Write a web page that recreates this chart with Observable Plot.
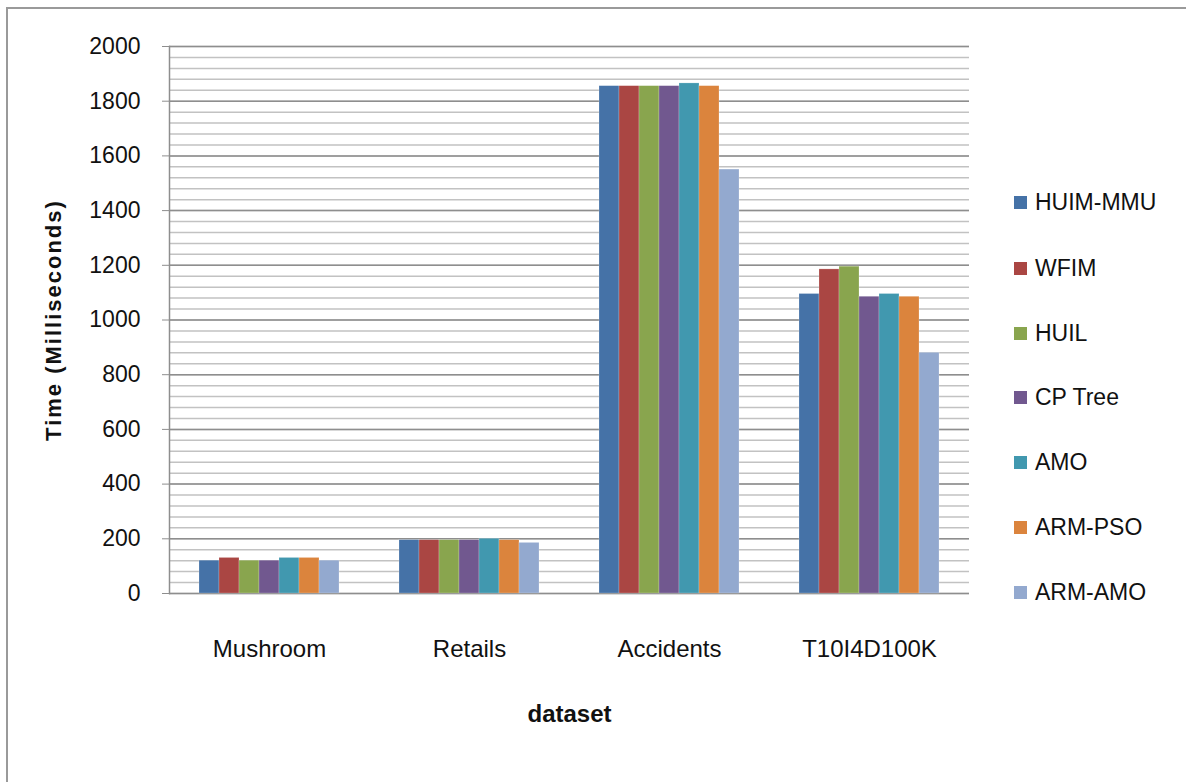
<!DOCTYPE html>
<html>
<head>
<meta charset="utf-8">
<script src="https://cdn.jsdelivr.net/npm/d3@7"></script>
<script src="https://cdn.jsdelivr.net/npm/@observablehq/plot@0.6"></script>
<style>
  html, body { margin: 0; padding: 0; background: #fff; }
  #wrap { position: relative; width: 1186px; height: 782px; overflow: hidden; font-family: "Liberation Sans", Arial, sans-serif; }
  #border { position: absolute; left: 6px; top: 7px; width: 1300px; height: 900px; border-top: 2px solid #9a9a9a; border-left: 2px solid #9a9a9a; }
  #chart { position: absolute; left: 0; top: 0; }
  #legend { position: absolute; left: 1014px; top: 0; }
  .item { position: absolute; left: 0; display: flex; align-items: center; white-space: nowrap; font-size: 23px; color: #111; }
  .sw { width: 13px; height: 13px; margin-right: 8px; }
  #chart svg [aria-label="fx-axis label"] text { font-weight: bold; }
  #chart svg [aria-label="text"] text { letter-spacing: 2px; }
</style>
</head>
<body>
<div id="wrap">
  <div id="border"></div>
  <div id="chart"></div>
  <div id="legend"></div>
</div>
<script>
const datasets = ["Mushroom", "Retails", "Accidents", "T10I4D100K"];
const series = ["HUIM-MMU", "WFIM", "HUIL", "CP Tree", "AMO", "ARM-PSO", "ARM-AMO"];
const colors = ["#4572A7", "#AA4643", "#89A54E", "#71588F", "#4198AF", "#DB843D", "#93A9CF"];
// values per series, in dataset order
const huimMmu = [120, 195, 1855, 1095];
const wfim    = [130, 195, 1855, 1185];
const huil    = [120, 195, 1855, 1195];
const cpTree  = [120, 195, 1855, 1085];
const amo     = [130, 200, 1865, 1095];
const armPso  = [130, 195, 1855, 1085];
const armAmo  = [120, 185, 1550, 880];
const yTicks = [0, 200, 400, 600, 800, 1000, 1200, 1400, 1600, 1800, 2000];
const minorTicks = d3.range(0, 2001, 40);
const yTitle = "Time (Milliseconds)";
const xTitle = "dataset";

const valuesBySeries = [huimMmu, wfim, huil, cpTree, amo, armPso, armAmo];
const rows = [];
datasets.forEach((d, i) => series.forEach((s, j) => rows.push({dataset: d, series: s, value: valuesBySeries[j][i]})));

const chart = Plot.plot({
  width: 1000,
  height: 782,
  marginLeft: 167,
  marginRight: 30,
  marginTop: 46,
  marginBottom: 189,
  style: {fontFamily: "'Liberation Sans', Arial, sans-serif", fontSize: "22px", color: "#111", background: "transparent"},
  fx: {domain: datasets, padding: 0, label: xTitle},
  x: {domain: series, paddingInner: 0, paddingOuter: 1.45, axis: null},
  y: {domain: [0, 2000], label: null},
  color: {domain: series, range: colors},
  marks: [
    Plot.ruleY(minorTicks, {stroke: "#c2c2c2", strokeWidth: 1.5}),
    Plot.ruleY(yTicks, {stroke: "#8e8e8e", strokeWidth: 1.5}),
    Plot.barY(rows, {fx: "dataset", x: "series", y: "value", fill: "series", stroke: "#ffffff", strokeOpacity: 0.35, strokeWidth: 0.6}),
    Plot.frame({anchor: "left", stroke: "#8e8e8e", strokeWidth: 1.5, facetAnchor: "left"}),
    Plot.axisY(yTicks, {tickSize: 7, tickPadding: 22, stroke: "#8e8e8e", fontSize: 23, tickFormat: d => String(d), label: null}),
    Plot.text([yTitle], {text: d => d, frameAnchor: "left", textAnchor: "middle", dx: -116, rotate: -90, fontSize: 22, fontWeight: "bold", facetAnchor: "left", fill: "#111"}),
    Plot.axisFx({anchor: "bottom", tickSize: 0, tickPadding: 46, fontSize: 24, label: xTitle, labelAnchor: "center", labelOffset: 128})
  ]
});
document.getElementById("chart").appendChild(chart);

const legend = document.getElementById("legend");
const legendY = [203, 269, 334, 398, 463, 528, 593];
series.forEach((s, i) => {
  const it = document.createElement("div");
  it.className = "item";
  it.style.top = (legendY[i] - 14) + "px";
  it.innerHTML = `<span class="sw" style="background:${colors[i]}"></span><span>${s}</span>`;
  legend.appendChild(it);
});
</script>
</body>
</html>
